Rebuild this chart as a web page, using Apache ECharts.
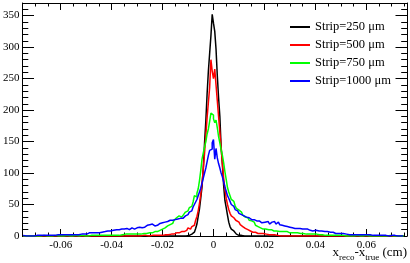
<!DOCTYPE html>
<html><head><meta charset="utf-8">
<script src="https://cdn.jsdelivr.net/npm/echarts@6/dist/echarts.min.js"></script>
<style>html,body{margin:0;padding:0;background:#fff}#c{width:410px;height:263px}</style>
</head><body><div id="c"></div>
<script>
// Histogram binning: 300 bins of width 0.0005 from -0.075
const binLow = -0.075;
const binWidth = 0.0005;

const seriesNames = ['Strip=250 μm', 'Strip=500 μm', 'Strip=750 μm', 'Strip=1000 μm'];
const seriesColors = ['#000000', '#ff0000', '#00ff00', '#0000ff'];

const strip250 = [
0,0,0,0,0,0,0,0,0,0, 0,0,0,0,0,0,0,0,0,0, 0,0,0,0,0,0,0,0,0,0,
0,0,0,0,0,0,0,0,0,0, 0,0,0,0,0,0,0,0,0,0, 0,0,0,0,0,0,0,0,0,0,
0,0,0,0,0,0,0,0,0,0, 0,0,0,0,0,0,0,0,0,0, 0,0,0,0,0,0,0,0,0,0,
0,0,0,0,0,0,0,0,0,0, 0,0,0,0,0,0,0,0,0,0, 0,0,0,0,0,0,0,0,0,0,
0,0,0,0,0,0,0,1,0,1,
1,2,3,4,6,9,12,19,31,43,
60,78,108,148,183,226,262,290,318,352,
338,325,297,255,220,190,142,114,80,56,
45,33,22,15,11,8,6,5,3,2,
1,1,0,0,0,0,0,0,0,0,
0,0,0,0,0,0,0,0,0,0, 0,0,0,0,0,0,0,0,0,0, 0,0,0,0,0,0,0,0,0,0,
0,0,0,0,0,0,0,0,0,0, 0,0,0,0,0,0,0,0,0,0, 0,0,0,0,0,0,0,0,0,0,
0,0,0,0,0,0,0,0,0,0, 0,0,0,0,0,0,0,0,0,0, 0,0,0,0,0,0,0,0,0,0,
0,0,0,0,0,0,0,0,0,0, 0,0,0,0,0,0,0,0,0,0, 0,0,0,0,0,0,0,0,0,0
];

const strip500 = [
0,0,0,0,0,0,0,0,0,0, 0,0,0,0,0,0,0,0,0,0, 0,0,0,0,0,0,0,0,0,0,
0,0,0,0,0,0,0,0,0,0, 0,0,0,0,0,0,0,0,0,0, 0,0,0,0,0,0,0,0,0,0,
0,0,0,0,0,0,0,0,0,0, 0,0,0,0,0,0,0,0,0,0, 0,0,0,0,0,0,0,0,0,0,
0,0,0,0,1,0,0,1,0,0,
1,1,0,1,2,1,1,2,1,2,
1,2,2,3,2,3,3,4,3,4,
4,5,5,6,6,7,7,8,9,10,
13,11,13,15,17,20,25,31,40,52,
66,84,106,132,160,188,212,236,280,262,
250,265,240,215,190,165,140,115,92,74,
60,50,42,36,32,29,26,25,24,22,
20,18,15,14,12,11,10,9,8,7,
7,6,6,5,5,4,4,3,4,3,
3,3,2,2,3,2,2,1,2,1,
1,1,0,1,1,0,1,0,0,1,
0,0,0,0,0,0,0,0,0,0, 0,0,0,0,0,0,0,0,0,0, 0,0,0,0,0,0,0,0,0,0,
0,0,0,0,0,0,0,0,0,0, 0,0,0,0,0,0,0,0,0,0, 0,0,0,0,0,0,0,0,0,0,
0,0,0,0,0,0,0,0,0,0, 0,0,0,0,0,0,0,0,0,0, 0,0,0,0,0,0,0,0,0,0
];

const strip750 = [
0,0,0,0,0,0,0,0,0,0,
0,0,0,0,0,0,1,0,0,0,
0,0,0,0,0,1,0,0,0,0,
0,0,0,0,1,0,0,0,0,0,
0,1,0,0,0,0,1,0,0,0,
1,0,1,1,0,1,0,1,1,1,
0,1,1,2,1,1,0,1,1,1,
2,1,2,1,2,2,1,2,2,2,
3,2,2,3,2,3,2,3,3,3,
3,4,3,4,4,4,5,4,5,5,
6,5,6,6,7,7,8,8,9,10,
11,12,13,14,16,17,18,20,22,25,
26,29,28,32,30,33,34,36,38,40,
42,45,47,50,54,64,62,68,75,88,
104,122,132,141,150,162,170,182,195,192,
186,180,184,172,158,148,137,128,116,102,
90,77,70,64,58,55,52,48,44,43,
41,38,36,33,30,31,29,27,25,26,
24,22,20,17,15,14,13,12,12,11,
10,11,10,10,9,10,9,8,9,8,
8,7,8,7,6,7,6,6,7,5,
6,5,6,5,5,4,5,4,4,5,
4,4,3,4,3,3,4,3,3,2,
3,3,2,2,3,2,2,1,2,2,
1,2,1,1,2,1,1,1,0,1,
1,0,1,0,0,0,0,1,0,0,
0,0,1,0,0,0,0,0,0,1,
0,0,0,0,0,0,0,1,0,0,
0,0,0,0,0,0,0,0,1,0,
0,0,0,0,0,0,0,0,0,0
];

const strip1000 = [
1,1,0,1,0,1,1,0,1,0,
1,1,0,1,1,1,0,1,1,1,
2,1,1,1,2,1,1,2,1,2,
2,1,2,2,1,2,3,2,2,2,
3,2,3,3,2,3,3,4,3,4,
3,4,5,4,5,4,5,6,5,6,
5,7,6,7,7,6,8,7,8,8,
9,9,8,10,9,10,9,11,10,11,
10,12,11,10,12,11,13,11,12,13,
12,14,15,13,15,16,14,17,16,18,
16,17,19,16,18,19,17,20,18,19,
21,20,22,21,23,22,25,25,24,26,
25,27,26,28,27,28,31,30,32,34,
36,38,40,43,46,50,54,58,64,70,
76,84,92,100,108,118,128,136,138,148,
153,122,139,124,115,108,100,94,86,78,
71,64,60,55,50,47,44,42,40,38,
36,35,34,33,32,30,31,29,27,28,
26,25,26,24,23,24,22,23,21,22,
22,20,23,21,19,22,20,23,21,19,
22,20,18,19,17,18,16,17,15,16,
14,15,13,14,12,13,12,11,12,13,
11,11,10,11,9,10,9,10,8,9,
9,8,8,7,8,6,7,7,6,7,
6,6,5,5,6,4,5,4,5,4,
4,3,4,3,3,3,2,3,2,3,
2,2,2,2,1,2,2,1,2,1,
2,1,2,1,1,1,2,1,1,1,
1,1,1,1,0,1,1,0,1,1,
1,0,1,1,0,1,0,1,1,0
];

const allCounts = [strip250, strip500, strip750, strip1000];

const xMin = -0.075, xMax = 0.076;
const yMin = 0, yMax = 370;
const xTitle = '{m|x}{s|reco}{m|-x}{s|true}{m| (cm)}';

const FONT = 'Liberation Serif';
const chart = echarts.init(document.getElementById('c'), null, {renderer: 'canvas'});

function toSeriesData(counts) {
  return counts.map((v, i) => [binLow + (i + 0.5) * binWidth, v]);
}
function fmtX(v) {
  const r = Math.round(v * 100) / 100;
  return r === 0 ? '0' : String(r);
}
const black = '#000';

function xAxisMajor(pos, labels) {
  return {
    type: 'value', gridIndex: 0, position: pos, min: xMin, max: xMax,
    splitNumber: 7, minInterval: 0.02, maxInterval: 0.02,
    axisLine: {show: true, onZero: false, lineStyle: {color: black, width: 1}},
    axisTick: {show: true, inside: true, length: 7, lineStyle: {color: black, width: 1}},
    axisLabel: {show: labels, margin: 4, fontFamily: FONT, fontSize: 11, color: black,
      showMinLabel: false, showMaxLabel: false, formatter: fmtX},
    splitLine: {show: false}
  };
}
function xAxisMinor(pos) {
  return {
    type: 'value', gridIndex: 0, position: pos, min: xMin, max: xMax, interval: 0.005,
    axisLine: {show: false, onZero: false},
    axisTick: {show: true, inside: true, length: 3.5, lineStyle: {color: black, width: 1}},
    axisLabel: {show: false}, splitLine: {show: false}
  };
}
function yAxisMajor(pos, labels) {
  return {
    type: 'value', gridIndex: 0, position: pos, min: yMin, max: yMax, interval: 50,
    axisLine: {show: true, onZero: false, lineStyle: {color: black, width: 1}},
    axisTick: {show: true, inside: true, length: 11.5, lineStyle: {color: black, width: 1}},
    axisLabel: {show: labels, margin: 3, fontFamily: FONT, fontSize: 11, color: black,
      showMaxLabel: false},
    splitLine: {show: false}
  };
}
function yAxisMinor(pos) {
  return {
    type: 'value', gridIndex: 0, position: pos, min: yMin, max: yMax, interval: 10,
    axisLine: {show: false, onZero: false},
    axisTick: {show: true, inside: true, length: 5.8, lineStyle: {color: black, width: 1}},
    axisLabel: {show: false}, splitLine: {show: false}
  };
}

const option = {
  animation: false,
  backgroundColor: '#fff',
  grid: {left: 20, top: 3, width: 387, height: 233, containLabel: false},
  xAxis: [xAxisMajor('bottom', true), xAxisMinor('bottom'), xAxisMajor('top', false), xAxisMinor('top')],
  yAxis: [yAxisMajor('left', true), yAxisMinor('left'), yAxisMajor('right', false), yAxisMinor('right')],
  legend: {
    orient: 'vertical', left: 290, top: 18, padding: 0, itemGap: 0,
    itemWidth: 20, itemHeight: 2, icon: 'rect', selectedMode: false,
    textStyle: {fontFamily: FONT, fontSize: 12.5, color: black, lineHeight: 18},
    data: seriesNames
  },
  series: allCounts.map((counts, k) => ({
    name: seriesNames[k], type: 'line', step: 'middle',
    xAxisIndex: 0, yAxisIndex: 0,
    showSymbol: false, symbol: 'none', clip: true,
    color: seriesColors[k],
    lineStyle: {color: seriesColors[k], width: 1.5},
    data: toSeriesData(counts)
  })),
  graphic: [{
    type: 'text', x: 407, y: 244, z: 10,
    style: {
      text: xTitle, align: 'right', verticalAlign: 'top', fill: black,
      rich: {
        m: {fontFamily: FONT, fontSize: 13, lineHeight: 18, verticalAlign: 'middle', color: black},
        s: {fontFamily: FONT, fontSize: 9, lineHeight: 18, verticalAlign: 'bottom', color: black}
      }
    }
  }]
};
chart.setOption(option);
</script>
</body></html>
